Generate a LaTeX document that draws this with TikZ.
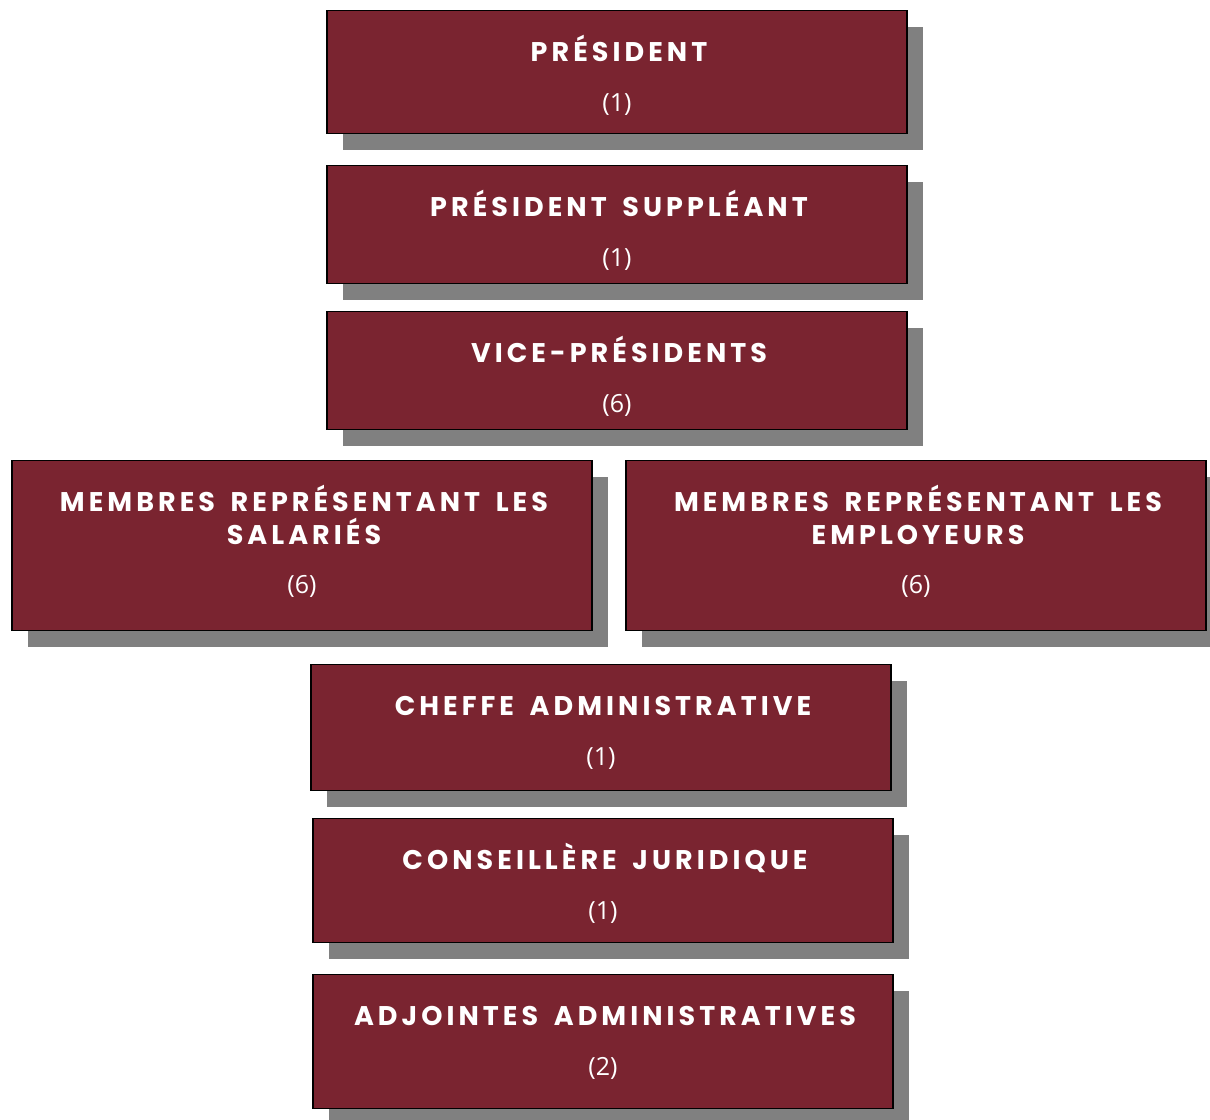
\documentclass[tikz,border=0pt]{standalone}
\usepackage{fontspec}
\setmainfont{Open Sans}
\newfontfamily\titrefont[LetterSpace=15,WordSpace=1.6]{Poppins}
\usetikzlibrary{positioning,shadows}
\definecolor{bordeaux}{RGB}{122,36,48}
\definecolor{ombre}{RGB}{128,128,128}

\begin{document}
\begin{tikzpicture}[x=1pt,y=1pt]
		\tikzstyle{poste} = [rectangle, anchor=north, minimum width=580pt, draw=black,
		line width=1.5pt, fill=bordeaux, general shadow={fill=ombre, shadow xshift=16pt, shadow yshift=-16pt}]
		\tikzstyle{titre} = [anchor=base, inner sep=0pt, text=white, align=center,
		font=\titrefont\bfseries\fontsize{27}{32.5}\selectfont]
		\tikzstyle{nombre} = [anchor=base, inner sep=0pt, text=white, font=\fontsize{25}{28}\selectfont]
		\useasboundingbox (0,0) rectangle (1210,1119);
		% boxes
		\node (pres) [poste, minimum height=123pt] at (617,1109) {};
		\node (supp) [poste, minimum height=118pt] at (617,954) {};
		\node (vice) [poste, minimum height=118pt] at (617,808) {};
		\node (sal) [poste, minimum height=170pt] at (302,659) {};
		\node (empl) [poste, minimum height=170pt] at (916,659) {};
		\node (chef) [poste, minimum height=126pt] at (601,455) {};
		\node (cons) [poste, minimum height=124pt] at (603,301) {};
		\node (adj) [poste, minimum height=134pt] at (603,145) {};
		% titles (base = last line)
		\node (presT) [titre] at ([xshift=2pt,yshift=-52pt]pres.north) {PRÉSIDENT};
		\node (suppT) [titre] at ([xshift=2pt,yshift=-52pt]supp.north) {PRÉSIDENT SUPPLÉANT};
		\node (viceT) [titre] at ([xshift=2pt,yshift=-52pt]vice.north) {VICE-PRÉSIDENTS};
		\node (salT) [titre] at ([xshift=2pt,yshift=-84.5pt]sal.north) {MEMBRES REPRÉSENTANT LES\\SALARIÉS};
		\node (emplT) [titre] at ([xshift=2pt,yshift=-84.5pt]empl.north) {MEMBRES REPRÉSENTANT LES\\EMPLOYEURS};
		\node (chefT) [titre] at ([xshift=2pt,yshift=-52pt]chef.north) {CHEFFE ADMINISTRATIVE};
		\node (consT) [titre] at ([xshift=2pt,yshift=-52pt]cons.north) {CONSEILLÈRE JURIDIQUE};
		\node (adjT) [titre] at ([xshift=2pt,yshift=-52pt]adj.north) {ADJOINTES ADMINISTRATIVES};
		% numbers
		\node (presN) [nombre] at ([yshift=-101.5pt]pres.north) {(1)};
		\node (suppN) [nombre] at ([yshift=-101.5pt]supp.north) {(1)};
		\node (viceN) [nombre] at ([yshift=-101.5pt]vice.north) {(6)};
		\node (salN) [nombre] at ([yshift=-134pt]sal.north) {(6)};
		\node (emplN) [nombre] at ([yshift=-134pt]empl.north) {(6)};
		\node (chefN) [nombre] at ([yshift=-101.5pt]chef.north) {(1)};
		\node (consN) [nombre] at ([yshift=-101.5pt]cons.north) {(1)};
		\node (adjN) [nombre] at ([yshift=-101.5pt]adj.north) {(2)};
\end{tikzpicture}
\end{document}
